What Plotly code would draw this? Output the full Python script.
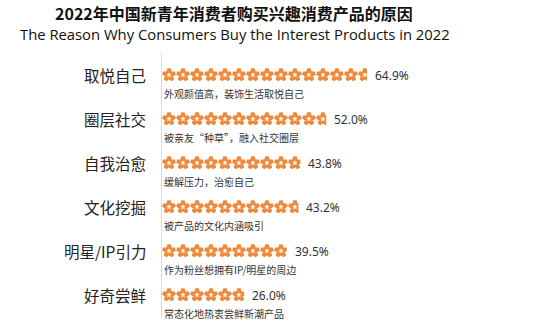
import math
import plotly.graph_objects as go

categories = ["取悦自己", "圈层社交", "自我治愈", "文化挖掘", "明星/IP引力", "好奇尝鲜"]
values = [64.9, 52.0, 43.8, 43.2, 39.5, 26.0]
captions = [
    "外观颜值高，装饰生活取悦自己",
    "被亲友“种草”，融入社交圈层",
    "缓解压力，治愈自己",
    "被产品的文化内涵吸引",
    "作为粉丝想拥有IP/明星的周边",
    "常态化地热衷尝鲜新潮产品",
]
title_cn = "2022年中国新青年消费者购买兴趣消费产品的原因"
title_en = "The Reason Why Consumers Buy the Interest Products in 2022"

STAR_UNIT = 4.43  # percent represented by one star symbol
ORANGE = "#F0883A"
CJK = "Noto Sans CJK SC"

fig = go.Figure()
shapes = []
annotations = []

for i, (cat, v, cap) in enumerate(zip(categories, values, captions)):
    n = math.ceil(v / STAR_UNIT)
    xs = [(k + 0.5) * STAR_UNIT for k in range(n)]
    ys = [i] * n
    fig.add_trace(go.Scatter(
        x=xs, y=ys, mode="markers", hoverinfo="skip", showlegend=False,
        marker=dict(symbol="star", size=8.8, color=ORANGE,
                    line=dict(color=ORANGE, width=3.4)),
    ))
    fig.add_trace(go.Scatter(
        x=xs, y=ys, mode="markers", hoverinfo="skip", showlegend=False,
        marker=dict(symbol="star", size=3.2, color="white",
                    line=dict(color="white", width=0.6)),
    ))
    # clip the last star at the value
    shapes.append(dict(type="rect", xref="x", yref="y", layer="above",
                       x0=v, x1=n * STAR_UNIT + 1.5, y0=i - 0.25, y1=i + 0.25,
                       fillcolor="white", line=dict(width=0)))
    annotations.append(dict(x=v, y=i, xref="x", yref="y", text=f"{v:.1f}%",
                            showarrow=False, xanchor="left", xshift=6,
                            font=dict(size=12, color="#333333", family="Noto Sans")))
    annotations.append(dict(x=0, y=i, xref="x", yref="y", text=cap,
                            showarrow=False, xanchor="left", xshift=0, yshift=-18,
                            font=dict(size=10, color="#333333", family=CJK)))
    annotations.append(dict(x=0, y=i, xref="paper", yref="y", text=cat,
                            showarrow=False, xanchor="right", xshift=-14,
                            font=dict(size=15.5, color="#222222", family=CJK)))

annotations.append(dict(x=234, y=13, xref="paper", yref="paper", text=f"<b>{title_cn}</b>",
                        showarrow=False, xanchor="center", yanchor="middle",
                        font=dict(size=16, color="#111111", family=CJK)))
annotations.append(dict(x=235, y=34, xref="paper", yref="paper", text=title_en,
                        showarrow=False, xanchor="center", yanchor="middle",
                        font=dict(size=14.8, color="#111111", family="Open Sans")))

# convert title pixel positions to paper coords
L, R, T, B = 162, 12, 53, 18
W, H = 553, 335
pw, ph = W - L - R, H - T - B
for a in annotations[-2:]:
    px, py = a["x"], a["y"]
    a["x"] = (px - L) / pw
    a["y"] = 1 - (py - T) / ph
    a["yref"] = "paper"

fig.update_layout(
    width=W, height=H,
    margin=dict(l=L, r=R, t=T, b=B),
    plot_bgcolor="white", paper_bgcolor="white",
    xaxis=dict(range=[0, 120], visible=False, fixedrange=True),
    yaxis=dict(range=[5.5, -0.5], showgrid=False, zeroline=False,
               showticklabels=False, ticks="", showline=True,
               linecolor="#D9D9D9", linewidth=1, fixedrange=True),
    shapes=shapes,
    annotations=annotations,
)

fig.write_html("out.html")
